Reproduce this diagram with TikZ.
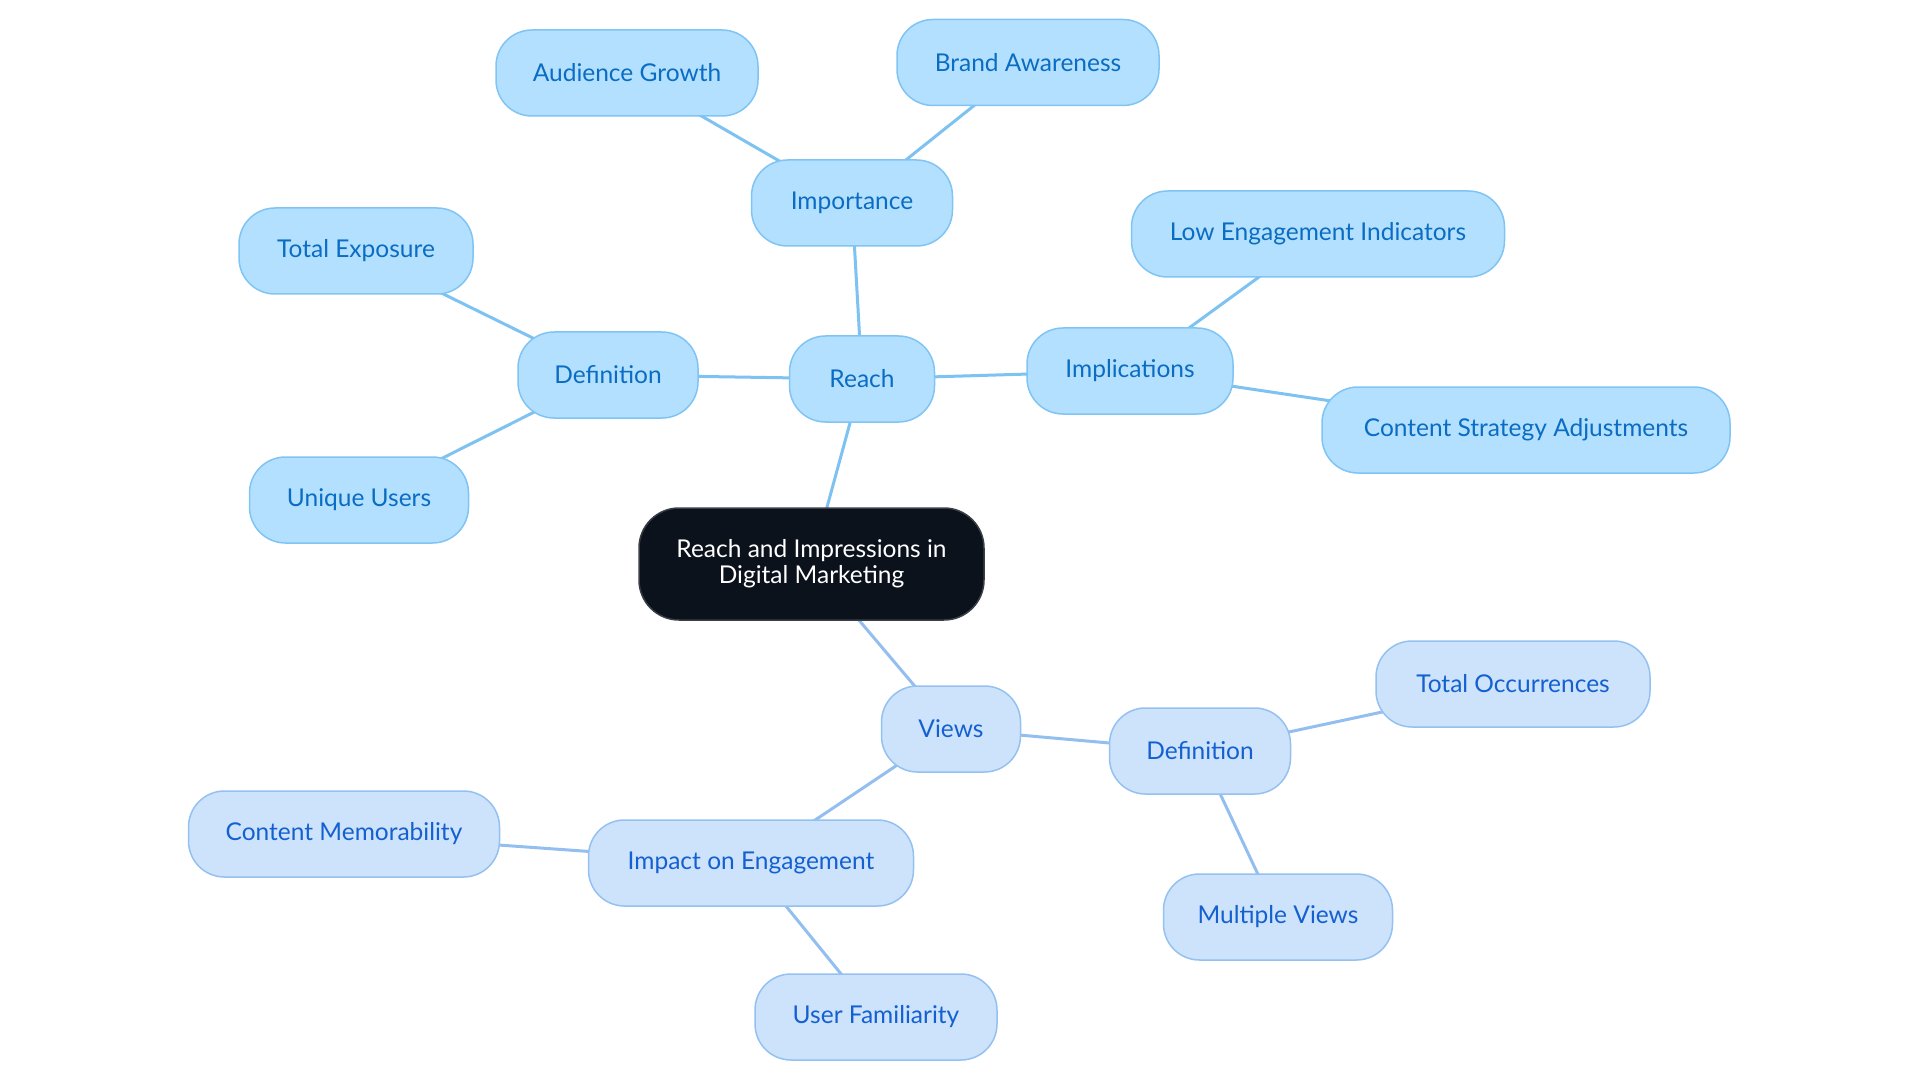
\documentclass[tikz,border=0pt]{standalone}
\usepackage{fontspec}
\setmainfont{Lato}
\usetikzlibrary{backgrounds}
\definecolor{rfill}{HTML}{B3E0FF}
\definecolor{rborder}{HTML}{80C4F3}
\definecolor{rtext}{HTML}{0A6CC2}
\definecolor{redge}{HTML}{7EC2F2}
\definecolor{vfill}{HTML}{CCE3FB}
\definecolor{vborder}{HTML}{94C1F0}
\definecolor{vtext}{HTML}{1560D0}
\definecolor{vedge}{HTML}{92BFEF}
\definecolor{rootfill}{HTML}{0C121C}
\definecolor{rootborder}{HTML}{3A3F47}
\tikzset{
  basebox/.style={rounded corners=36pt, inner sep=0pt, minimum height=86pt, line width=1.5pt, align=center,
    font=\fontsize{24.5}{29}\selectfont},
  rnode/.style={basebox, fill=rfill, draw=rborder, text=rtext},
  vnode/.style={basebox, fill=vfill, draw=vborder, text=vtext},
  rootnode/.style={basebox, rounded corners=40pt, minimum height=112pt, fill=rootfill, draw=rootborder, text=white,
    font=\fontsize{24.5}{26}\selectfont},
  redgestyle/.style={draw=redge, line width=3pt},
  vedgestyle/.style={draw=vedge, line width=3pt}
}
\begin{document}
\begin{tikzpicture}[x=1pt,y=-1pt]
\useasboundingbox (0,0) rectangle (1920,1083);
\node[rootnode, minimum width=345pt] (root) at (811.5,564) {Reach and Impressions in\\Digital Marketing};
% Reach branch
\node[rnode, minimum width=145pt] (reach) at (862,379) {Reach};
\node[rnode, minimum width=201pt] (importance) at (852,203) {Importance};
\node[rnode, minimum width=262pt] (audience) at (627,73) {Audience Growth};
\node[rnode, minimum width=262pt] (brand) at (1028,62.5) {Brand Awareness};
\node[rnode, minimum width=180pt] (rdef) at (608,375) {Definition};
\node[rnode, minimum width=234pt] (totalexp) at (356,251) {Total Exposure};
\node[rnode, minimum width=219pt] (unique) at (359,500) {Unique Users};
\node[rnode, minimum width=206pt] (impl) at (1130,371) {Implications};
\node[rnode, minimum width=373pt] (lowen) at (1318,234) {Low Engagement Indicators};
\node[rnode, minimum width=408pt] (content) at (1526,430) {Content Strategy Adjustments};
% Views branch
\node[vnode, minimum width=139pt] (views) at (951,729) {Views};
\node[vnode, minimum width=181pt] (vdef) at (1200,751) {Definition};
\node[vnode, minimum width=274pt] (totalocc) at (1513,684) {Total Occurrences};
\node[vnode, minimum width=229pt] (multi) at (1278,917) {Multiple Views};
\node[vnode, minimum width=325pt] (impact) at (751,863) {Impact on Engagement};
\node[vnode, minimum width=311pt] (memo) at (344,834) {Content Memorability};
\node[vnode, minimum width=242pt] (userfam) at (876,1017) {User Familiarity};
\begin{scope}[on background layer]
\draw[redgestyle] (root.center) -- (reach.center);
\draw[redgestyle] (reach.center) -- (importance.center);
\draw[redgestyle] (importance.center) -- (audience.center);
\draw[redgestyle] (importance.center) -- (brand.center);
\draw[redgestyle] (reach.center) -- (rdef.center);
\draw[redgestyle] (rdef.center) -- (totalexp.center);
\draw[redgestyle] (rdef.center) -- (unique.center);
\draw[redgestyle] (reach.center) -- (impl.center);
\draw[redgestyle] (impl.center) -- (lowen.center);
\draw[redgestyle] (impl.center) -- (content.center);
\draw[vedgestyle] (root.center) -- (views.center);
\draw[vedgestyle] (views.center) -- (vdef.center);
\draw[vedgestyle] (vdef.center) -- (totalocc.center);
\draw[vedgestyle] (vdef.center) -- (multi.center);
\draw[vedgestyle] (views.center) -- (impact.center);
\draw[vedgestyle] (impact.center) -- (memo.center);
\draw[vedgestyle] (impact.center) -- (userfam.center);
\end{scope}
\end{tikzpicture}
\end{document}
